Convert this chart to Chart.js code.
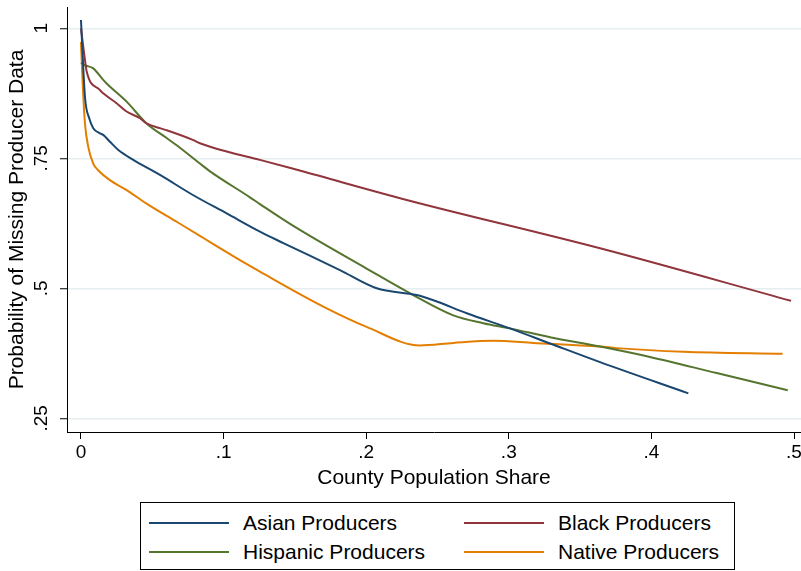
<!DOCTYPE html>
<html><head><meta charset="utf-8">
<script src="https://cdn.jsdelivr.net/npm/chart.js@4.4.1/dist/chart.umd.min.js"></script>
<style>
html,body{margin:0;padding:0;background:#fff;overflow:hidden}
#wrap{position:relative;width:801px;height:571px}
#c{position:absolute;left:0;top:0}
#legend{position:absolute;left:140px;top:502px;width:595px;height:68px;border:1px solid #000;box-sizing:border-box;font-family:"Liberation Sans",Arial,Helvetica,sans-serif;font-size:21px;color:#000;background:#fff}
.item{position:absolute;height:26px;display:flex;align-items:center;white-space:nowrap}
.item .ln{width:80px;height:2px;margin-right:14px}
</style></head>
<body>
<div id="wrap">
<canvas id="c" width="801" height="571"></canvas>
<div id="legend"></div>
</div>
<script>
// ---- data ----
const seriesLabels = ['Asian Producers', 'Black Producers', 'Hispanic Producers', 'Native Producers'];

const asianX = [0, 0.0028, 0.0058, 0.0086, 0.0133, 0.0156, 0.0203, 0.0262, 0.0367, 0.0554, 0.0788, 0.1022, 0.1255, 0.1419, 0.1816, 0.2074, 0.2354, 0.2471, 0.2705, 0.3008, 0.3289, 0.364, 0.4259];
const asianY = [1.016, 0.868, 0.827, 0.808, 0.798, 0.795, 0.782, 0.766, 0.747, 0.718, 0.679, 0.644, 0.609, 0.587, 0.535, 0.500, 0.487, 0.477, 0.452, 0.423, 0.394, 0.358, 0.298];

const blackX = [0, 0.0028, 0.004, 0.0133, 0.0156, 0.025, 0.032, 0.0414, 0.046, 0.0554, 0.0601, 0.0788, 0.0834, 0.1022, 0.1255, 0.154, 0.2284, 0.364, 0.4979];
const blackY = [1.0, 0.939, 0.917, 0.881, 0.875, 0.856, 0.840, 0.827, 0.817, 0.808, 0.804, 0.785, 0.779, 0.763, 0.747, 0.726, 0.670, 0.577, 0.476];

const hispanicX = [0, 0.0028, 0.0086, 0.0156, 0.018, 0.032, 0.046, 0.0601, 0.0671, 0.0834, 0.0905, 0.1185, 0.1255, 0.1489, 0.2003, 0.233, 0.2611, 0.2821, 0.3008, 0.3289, 0.364, 0.399, 0.4458, 0.4956];
const hispanicY = [0.934, 0.929, 0.923, 0.901, 0.894, 0.859, 0.817, 0.789, 0.775, 0.740, 0.725, 0.675, 0.662, 0.620, 0.538, 0.487, 0.448, 0.433, 0.423, 0.406, 0.388, 0.368, 0.337, 0.304];

const nativeX = [0, 0.0012, 0.0028, 0.0051, 0.0086, 0.0121, 0.0203, 0.032, 0.046, 0.0671, 0.0834, 0.0905, 0.1185, 0.1255, 0.1699, 0.2003, 0.2377, 0.2611, 0.2891, 0.3172, 0.364, 0.3757, 0.4224, 0.492];
const nativeY = [0.974, 0.894, 0.817, 0.772, 0.740, 0.727, 0.708, 0.689, 0.663, 0.628, 0.601, 0.589, 0.543, 0.532, 0.465, 0.426, 0.390, 0.395, 0.399, 0.395, 0.388, 0.385, 0.378, 0.374];

const xTicks = [0, 0.1, 0.2, 0.3, 0.4, 0.5];
const xTickLabels = ['0', '.1', '.2', '.3', '.4', '.5'];
const yTicks = [0.25, 0.5, 0.75, 1];
const yTickLabels = ['.25', '.5', '.75', '1'];

const xTitle = 'County Population Share';
const yTitle = 'Probability of Missing Producer Data';

const colors = ['#1a476f', '#90353b', '#55752f', '#e37e00'];

// ---- build ----
const pts = (xs, ys) => xs.map((x, i) => ({x: x, y: ys[i]}));
const allSeries = [pts(asianX, asianY), pts(blackX, blackY), pts(hispanicX, hispanicY), pts(nativeX, nativeY)];

const FONT = '"Liberation Sans", Arial, Helvetica, sans-serif';

const datasets = allSeries.map((d, i) => ({
  label: seriesLabels[i],
  data: d,
  borderColor: colors[i],
  backgroundColor: colors[i],
  borderWidth: 2,
  pointRadius: 0,
  showLine: true,
  fill: false,
  cubicInterpolationMode: 'monotone'
}));

const chart = new Chart(document.getElementById('c'), {
  type: 'scatter',
  data: {datasets: datasets},
  options: {
    responsive: false,
    animation: false,
    devicePixelRatio: 1,
    layout: {padding: {top: 7, right: 0, bottom: 80, left: 0}},
    plugins: {legend: {display: false}, tooltip: {enabled: false}},
    scales: {
      x: {
        type: 'linear',
        min: -0.0098,
        max: 0.5049,
        afterBuildTicks: s => { s.ticks = xTicks.map(v => ({value: v})); },
        afterFit: s => { s.height = 59; s.paddingLeft = 0; s.paddingRight = 0; },
        ticks: {
          callback: (v) => { const i = xTicks.findIndex(t => Math.abs(t - v) < 1e-9); return i >= 0 ? xTickLabels[i] : ''; },
          color: '#000',
          font: {family: FONT, size: 19},
          padding: 2,
          maxRotation: 0, minRotation: 0
        },
        grid: {drawOnChartArea: false, drawTicks: true, tickLength: 7, tickColor: '#000', tickWidth: 1},
        border: {display: true, color: '#000', width: 1},
        title: {display: true, text: xTitle, color: '#000', font: {family: FONT, size: 21}, padding: {top: 0, bottom: 0}}
      },
      y: {
        type: 'linear',
        min: 0.2237,
        max: 1.041,
        afterBuildTicks: s => { s.ticks = yTicks.map(v => ({value: v})); },
        afterFit: s => { s.width = 67; s.paddingTop = 0; s.paddingBottom = 0; },
        ticks: {
          callback: (v) => { const i = yTicks.findIndex(t => Math.abs(t - v) < 1e-9); return i >= 0 ? yTickLabels[i] : ''; },
          color: '#000',
          font: {family: FONT, size: 19},
          padding: 5,
          minRotation: 90, maxRotation: 90,
          crossAlign: 'center'
        },
        grid: {color: '#e5eef0', lineWidth: 1.5, drawTicks: true, tickLength: 7, tickColor: '#000', tickWidth: 1},
        border: {display: true, color: '#000', width: 1},
        title: {display: true, text: yTitle, color: '#000', font: {family: FONT, size: 21}, padding: {top: 5, bottom: 0}}
      }
    }
  }
});

// ---- legend (HTML, built from the chart's datasets) ----
const legendEl = document.getElementById('legend');
const cellPos = [[8, 20], [323, 20], [8, 49], [323, 49]];
chart.data.datasets.forEach((ds, i) => {
  const it = document.createElement('div');
  it.className = 'item';
  it.style.left = cellPos[i][0] + 'px';
  it.style.top = (cellPos[i][1] - 13) + 'px';
  const ln = document.createElement('span');
  ln.className = 'ln';
  ln.style.background = ds.borderColor;
  const tx = document.createElement('span');
  tx.textContent = ds.label;
  it.appendChild(ln); it.appendChild(tx);
  legendEl.appendChild(it);
});
</script>
</body></html>
